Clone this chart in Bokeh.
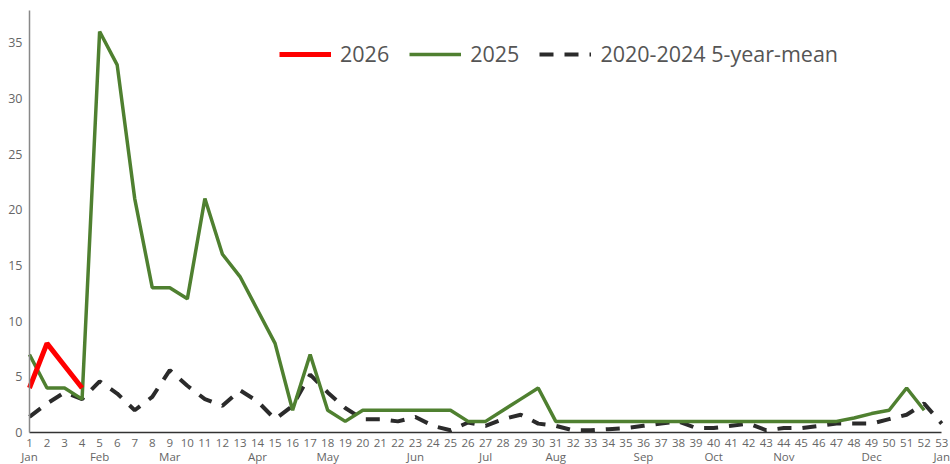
from bokeh.plotting import figure
from bokeh.models import Legend, LegendItem, FixedTicker, Range1d
from bokeh.embed import file_html
from bokeh.resources import INLINE

weeks = list(range(1, 54))
month_labels = {1: "Jan", 5: "Feb", 9: "Mar", 14: "Apr", 18: "May", 23: "Jun",
                27: "Jul", 31: "Aug", 36: "Sep", 40: "Oct", 44: "Nov", 49: "Dec", 53: "Jan"}

weeks_2026 = [1, 2, 3, 4]
cases_2026 = [4, 8, 6, 4]

weeks_2025 = list(range(1, 53))
cases_2025 = [7, 4, 4, 3, 36, 33, 21, 13, 13, 12, 21, 16, 14, 11, 8, 2, 7, 2, 1, 2,
              2, 2, 2, 2, 2, 1, 1, 2, 3, 4, 1, 1, 1, 1, 1, 1, 1, 1, 1, 1,
              1, 1, 1, 1, 1, 1, 1, 1.3, 1.7, 2, 4, 2]

weeks_mean = list(range(1, 54))
cases_mean = [1.4, 2.6, 3.6, 3.0, 4.6, 3.5, 2.0, 3.2, 5.6, 4.2, 3.0, 2.4, 3.8, 2.8, 1.2, 2.4,
              5.2, 3.6, 2.2, 1.2, 1.2, 1.0, 1.4, 0.6, 0.2, 0.9, 0.6, 1.2, 1.6, 0.8, 0.6, 0.2,
              0.2, 0.3, 0.4, 0.6, 0.8, 1.0, 0.4, 0.4, 0.6, 0.8, 0.2, 0.4, 0.4, 0.6, 0.8, 0.8,
              0.8, 1.2, 1.6, 2.6, 0.8]

p = figure(width=950, height=464, output_backend="svg", toolbar_location=None,
           x_range=Range1d(-0.65, 53.5), y_range=Range1d(-2.87, 38.78),
           min_border_left=0, min_border_right=0, min_border_top=0, min_border_bottom=0)
p.outline_line_color = None
p.xgrid.visible = False
p.ygrid.visible = False

r_mean = p.line(weeks_mean, cases_mean, line_color="#2b2b2b", line_width=4, line_dash="14 11")
r_2025 = p.line(weeks_2025, cases_2025, line_color="#4f8030", line_width=3.5)
r_2026 = p.line(weeks_2026, cases_2026, line_color="#ff0000", line_width=5)

font = "Open Sans"
p.xaxis.fixed_location = 0
p.xaxis.bounds = (1, 53)
p.xaxis.ticker = FixedTicker(ticks=weeks)
p.xaxis.major_label_overrides = {w: (f"{w}\n{month_labels[w]}" if w in month_labels else f"{w}\n ")
                                 for w in weeks}
p.xaxis.major_tick_line_color = None
p.xaxis.minor_tick_line_color = None
p.xaxis.major_tick_out = 0
p.xaxis.axis_line_color = "#333333"
p.xaxis.axis_line_width = 1.5
p.xaxis.major_label_text_font = font
p.xaxis.major_label_text_font_size = "11.5px"
p.xaxis.major_label_text_color = "#666666"
p.xaxis.major_label_text_line_height = 0.95
p.xaxis.major_label_standoff = 2

p.yaxis.fixed_location = 1
p.yaxis.bounds = (0, 37.9)
p.yaxis.ticker = FixedTicker(ticks=[0, 5, 10, 15, 20, 25, 30, 35])
p.yaxis.major_tick_line_color = None
p.yaxis.minor_tick_line_color = None
p.yaxis.major_tick_out = 0
p.yaxis.axis_line_color = "#888888"
p.yaxis.axis_line_width = 1.5
p.yaxis.major_label_text_font = font
p.yaxis.major_label_text_font_size = "12.5px"
p.yaxis.major_label_text_color = "#666666"
p.yaxis.major_label_standoff = 7

legend = Legend(items=[LegendItem(label="2026", renderers=[r_2026]),
                       LegendItem(label="2025", renderers=[r_2025]),
                       LegendItem(label="2020-2024 5-year-mean", renderers=[r_mean])],
                orientation="horizontal", location=(279, 396))
legend.label_text_font = font
legend.label_text_font_size = "21.5px"
legend.label_text_color = "#555555"
legend.glyph_width = 52
legend.glyph_height = 20
legend.spacing = 20
legend.label_standoff = 9
legend.border_line_color = None
legend.background_fill_alpha = 0
p.add_layout(legend)

open("out.html", "w").write(file_html(p, INLINE))
